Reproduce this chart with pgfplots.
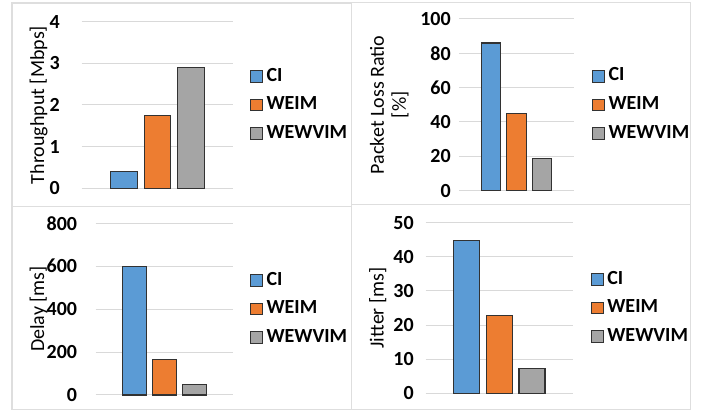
\documentclass[border=0pt]{standalone}
\usepackage{fontspec}
\setmainfont{Carlito}
\usepackage{pgfplots}
\pgfplotsset{compat=1.18}
\definecolor{cblue}{RGB}{91,155,213}
\definecolor{corange}{RGB}{237,125,49}
\definecolor{cgray}{RGB}{165,165,165}
\definecolor{edgec}{RGB}{50,50,50}
\definecolor{gridc}{RGB}{217,217,217}
\definecolor{borderc}{RGB}{222,222,222}
\pgfplotsset{
  panel/.style={
    scale only axis,
    anchor=south west,
    xmin=-2.26, xmax=2.26,
    ymin=0,
    xtick=\empty,
    ymajorgrids,
    grid style={color=gridc, line width=0.75pt},
    axis line style={draw=none},
    major tick length=0pt,
    tick label style={font=\fontsize{15}{17}\selectfont\bfseries},
    /pgf/number format/assume math mode=true,
    yticklabel style={anchor=east, inner sep=0pt},
    every axis y label/.style={rotate=90, anchor=north, inner sep=0pt, font=\fontsize{15}{16.5}\selectfont, align=center},
    legend style={at={(axis description cs:1,0.5)}, anchor=west, draw=none, fill=none, inner sep=0pt,
      font=\fontsize{15}{17}\selectfont\bfseries, row sep=8.4pt,
      nodes={inner sep=0pt, text height=10pt, text depth=3pt}},
    legend cell align=left,
    clip=false,
  },
  barst/.style={ybar, bar shift=0pt, draw=edgec, line width=0.8pt, fill=#1,
    legend image code/.code={\draw[fill=#1, draw=edgec, line width=0.7pt] (0pt,-4.3pt) rectangle (9pt,4.3pt); \path (11.5pt,0pt);}},
}
\begin{document}
\begin{tikzpicture}
\begin{scope}[x=0.75pt,y=0.75pt]
\useasboundingbox (0,0) rectangle (708,413);
% panel borders
\draw[color=borderc, line width=1.1pt] (12,410) rectangle (351.7,206.5);
\draw[color=borderc, line width=1.1pt] (351.7,410.3) rectangle (690.7,208.7);
\draw[color=borderc, line width=1.1pt] (12,206.5) rectangle (351.7,3.3);
\draw[color=borderc, line width=1.1pt] (351.7,208.7) rectangle (690.7,3.3);
\end{scope}
% Throughput
\begin{axis}[panel, at={(61.275pt,168.525pt)}, width=113.7pt, height=124.95pt,
  ymax=4, ytick={0,1,2,3,4}, bar width=19.95pt,
  yticklabel style={xshift=-16.3pt},
  ylabel={Throughput [Mbps]}, ylabel style={at={(axis description cs:-0.3456,0.5)}},
  legend style={xshift=12.5pt}]
\addplot[barst=cblue] coordinates {(-1,0.40)};
\addplot[barst=corange] coordinates {(0,1.75)};
\addplot[barst=cgray] coordinates {(1,2.90)};
\legend{CI,WEIM,WEWVIM}
\end{axis}
% Packet loss
\begin{axis}[panel, at={(344.25pt,166.725pt)}, width=86.25pt, height=128.8pt,
  ymax=100, ytick={0,20,40,60,80,100}, bar width=14.8pt,
  yticklabel style={xshift=-6pt},
  ylabel={Packet Loss Ratio\\{}[\%]}, ylabel style={at={(axis description cs:-0.7765,0.5)}},
  legend style={xshift=13.5pt}]
\addplot[barst=cblue] coordinates {(-1,86.0)};
\addplot[barst=corange] coordinates {(0,44.7)};
\addplot[barst=cgray] coordinates {(1,18.9)};
\legend{CI,WEIM,WEWVIM}
\end{axis}
% Delay
\begin{axis}[panel, at={(71.775pt,13.5pt)}, width=103.2pt, height=128.8pt,
  ymax=800, ytick={0,200,400,600,800}, bar width=18pt,
  yticklabel style={xshift=-13.8pt},
  ylabel={Delay [ms]}, ylabel style={at={(axis description cs:-0.4826,0.5)}},
  legend style={xshift=12.5pt}]
\addplot[barst=cblue] coordinates {(-1,598)};
\addplot[barst=corange] coordinates {(0,166)};
\addplot[barst=cgray] coordinates {(1,48)};
\legend{CI,WEIM,WEWVIM}
\end{axis}
% Jitter
\begin{axis}[panel, at={(319.275pt,14.775pt)}, width=110.5pt, height=128pt,
  ymax=50, ytick={0,10,20,30,40,50}, bar width=19.5pt,
  yticklabel style={xshift=-8.8pt},
  ylabel={Jitter [ms]}, ylabel style={at={(axis description cs:-0.385,0.5)}},
  legend style={xshift=13.3pt}]
\addplot[barst=cblue] coordinates {(-1,44.8)};
\addplot[barst=corange] coordinates {(0,22.7)};
\addplot[barst=cgray] coordinates {(1,7.3)};
\legend{CI,WEIM,WEWVIM}
\end{axis}
\end{tikzpicture}
\end{document}
